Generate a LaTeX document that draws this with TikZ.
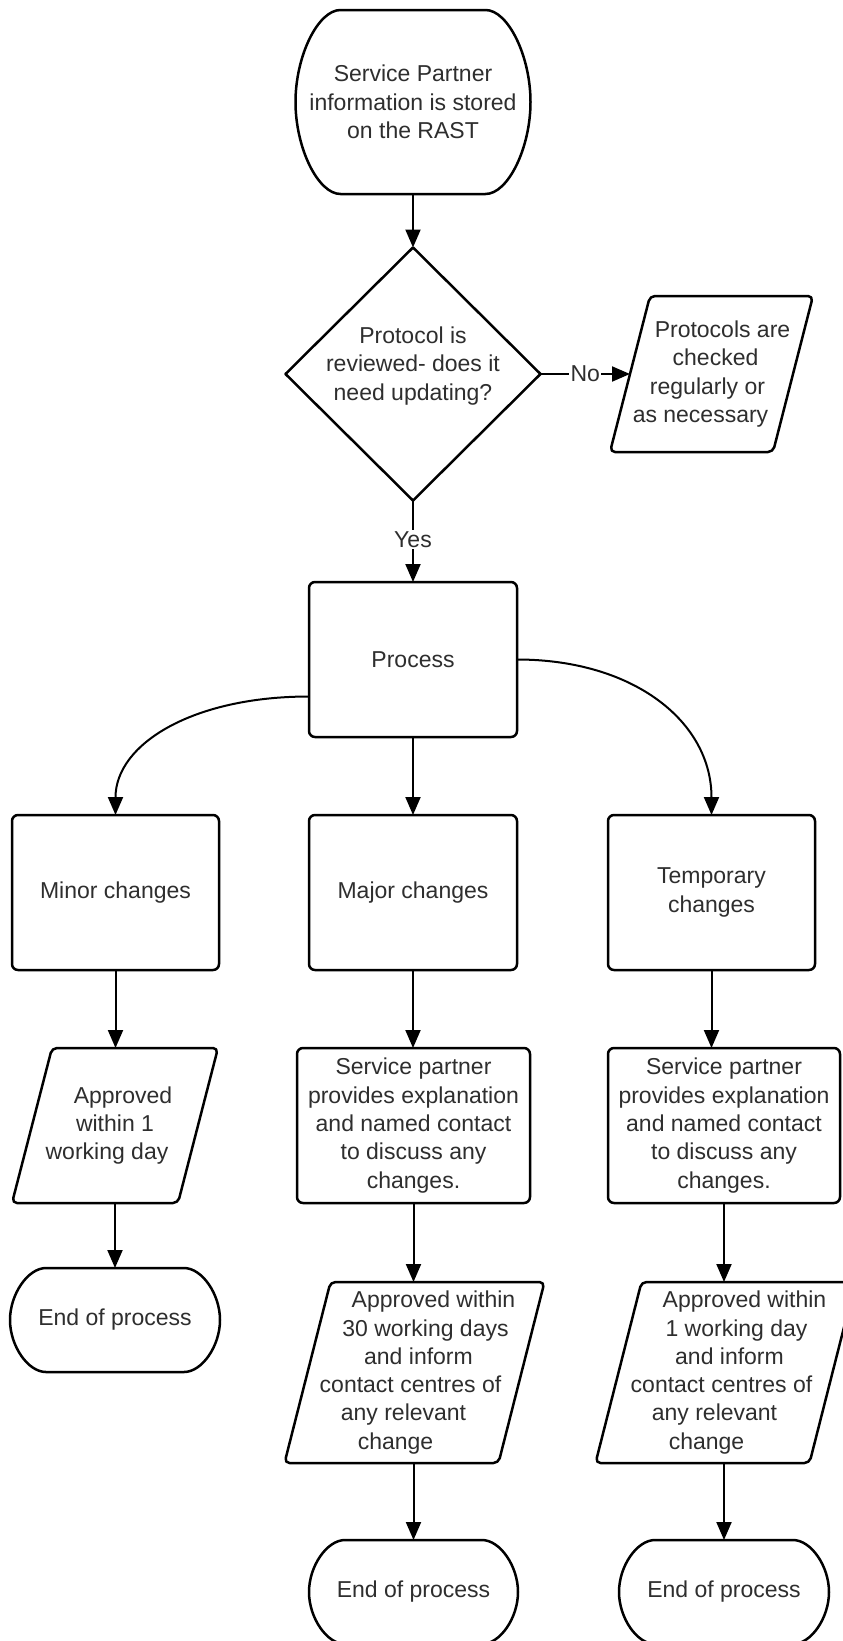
\documentclass[tikz,border=0pt]{standalone}
\usepackage{fontspec}
\setmainfont{Liberation Sans}
\usetikzlibrary{arrows.meta,calc,shapes.geometric}
\newcommand\slantline[2]{\makebox[0pt]{\hspace*{#1}#2}}
\newcommand\termout[2]{%
 \draw[shp] ($(#1.north west)+(#2,0)$) -- ($(#1.north east)+(-#2,0)$)
  .. controls ($(#1.north east)+(-0.5*#2,0)$) and ($(#1.north east)!0.25!(#1.south east)$) .. (#1.east)
  .. controls ($(#1.south east)!0.25!(#1.north east)$) and ($(#1.south east)+(-0.5*#2,0)$) .. ($(#1.south east)+(-#2,0)$)
  -- ($(#1.south west)+(#2,0)$)
  .. controls ($(#1.south west)+(0.5*#2,0)$) and ($(#1.south west)!0.25!(#1.north west)$) .. (#1.west)
  .. controls ($(#1.north west)!0.25!(#1.south west)$) and ($(#1.north west)+(0.5*#2,0)$) .. ($(#1.north west)+(#2,0)$) -- cycle;}
\newcommand\paraout[2]{%
 \draw[shp,rounded corners=5pt] ($(#1.north west)+(#2,0)$) -- (#1.north east) -- ($(#1.south east)+(-#2,0)$) -- (#1.south west) -- cycle;}
\begin{document}
\begin{tikzpicture}[x=1pt,y=-1pt,
  shp/.style={line width=2.5pt, draw=black, line join=round},
  txt/.style={font=\fontsize{23}{28.3}\selectfont, text=black!82, align=center, inner sep=0pt, outer sep=0pt},
  box/.style={txt, shp, rectangle, rounded corners=6pt},
  hollow/.style={txt, rectangle},
  arr/.style={line width=2pt, draw=black, -{Triangle[length=18pt,width=15pt]}},
  lab/.style={txt, fill=white, inner sep=1.5pt}]
\fill[white] (0,0) rectangle (843,1641);
\useasboundingbox (0,0) rectangle (843,1641);

% start
\node[hollow, minimum width=235pt, minimum height=184pt] (start) at (413,102) {Service Partner\\information is stored\\on the RAST};
\termout{start}{45}

% decision
\node[shp, diamond, minimum width=255pt, minimum height=253pt, inner sep=0pt, outer sep=0pt] (dia) at (413,374) {};
\node[txt] (diatext) at (413,366) {Protocol is\\reviewed- does it\\need updating?};

\node[hollow, minimum width=203pt, minimum height=156pt] (p1) at (711.5,374) {\slantline{22pt}{Protocols are}\\\slantline{8pt}{checked}\\\slantline{-8pt}{regularly or}\\\slantline{-22pt}{as necessary}};
\paraout{p1}{40}

\node[box, minimum width=208pt, minimum height=155pt] (process) at (413,659.5) {Process};

\node[box, minimum width=207pt, minimum height=155pt] (minor) at (115.5,892.5) {Minor changes};
\node[box, minimum width=208pt, minimum height=155pt] (major) at (413,892.5) {Major changes};
\node[box, minimum width=207pt, minimum height=155pt] (temp) at (711.5,892.5) {Temporary\\changes};

\node[hollow, minimum width=206pt, minimum height=155pt] (minordesc) at (115,1125.5) {\slantline{16pt}{Approved}\\within 1\\\slantline{-16pt}{working day}};
\paraout{minordesc}{40}
\node[box, minimum width=233pt, minimum height=155pt] (majordesc) at (413.5,1125.5) {Service partner\\provides explanation\\and named contact\\to discuss any\\changes.};
\node[box, minimum width=232pt, minimum height=155pt] (tempdesc) at (724,1125.5) {Service partner\\provides explanation\\and named contact\\to discuss any\\changes.};

\node[hollow, minimum width=210pt, minimum height=104pt] (minorend) at (115,1320) {End of process};
\termout{minorend}{36}

\node[hollow, minimum width=260pt, minimum height=181pt] (majorappr) at (414.5,1372.5) {\slantline{38pt}{Approved within}\\\slantline{22pt}{30 working days}\\\slantline{8pt}{and inform}\\\slantline{-8pt}{contact centres of}\\\slantline{-22pt}{any relevant}\\\slantline{-38pt}{change}};
\paraout{majorappr}{46}
\node[hollow, minimum width=260pt, minimum height=181pt] (tempappr) at (725.5,1372.5) {\slantline{38pt}{Approved within}\\\slantline{22pt}{1 working day}\\\slantline{8pt}{and inform}\\\slantline{-8pt}{contact centres of}\\\slantline{-22pt}{any relevant}\\\slantline{-38pt}{change}};
\paraout{tempappr}{46}

\node[hollow, minimum width=209pt, minimum height=104pt] (majorend) at (413.5,1592) {End of process};
\termout{majorend}{36}
\node[hollow, minimum width=210pt, minimum height=104pt] (tempend) at (724,1592) {End of process};
\termout{tempend}{36}

% connectors
\draw[arr] (start.south) -- (dia.north);
\draw[arr] (dia.east) -- node[lab] (nolab) {No} ($(p1.west)+(20,0)$);
\draw[arr] (dia.south) -- node[lab, pos=0.48] (yeslab) {Yes} (process.north);
\coordinate (lstart) at ($(process.west)+(0,37)$);
\draw[arr] (lstart) .. controls ($(lstart)!0.6!(lstart -| minor.north)$) and ($(minor.north)!0.6!(lstart -| minor.north)$) .. (minor.north);
\draw[arr] (process.east) .. controls ($(process.east)!0.6!(process.east -| temp.north)$) and ($(temp.north)!0.6!(process.east -| temp.north)$) .. (temp.north);
\draw[arr] (process.south) -- (major.north);
\draw[arr] (minor.south) -- (minor.south |- minordesc.north);
\draw[arr] (major.south) -- (major.south |- majordesc.north);
\draw[arr] (temp.south) -- (temp.south |- tempdesc.north);
\draw[arr] (minordesc.south) -- (minorend.north);
\draw[arr] (majordesc.south) -- (majordesc.south |- majorappr.north);
\draw[arr] (tempdesc.south) -- (tempdesc.south |- tempappr.north);
\draw[arr] (majorend.north |- majorappr.south) -- (majorend.north);
\draw[arr] (tempend.north |- tempappr.south) -- (tempend.north);
\end{tikzpicture}
\end{document}
